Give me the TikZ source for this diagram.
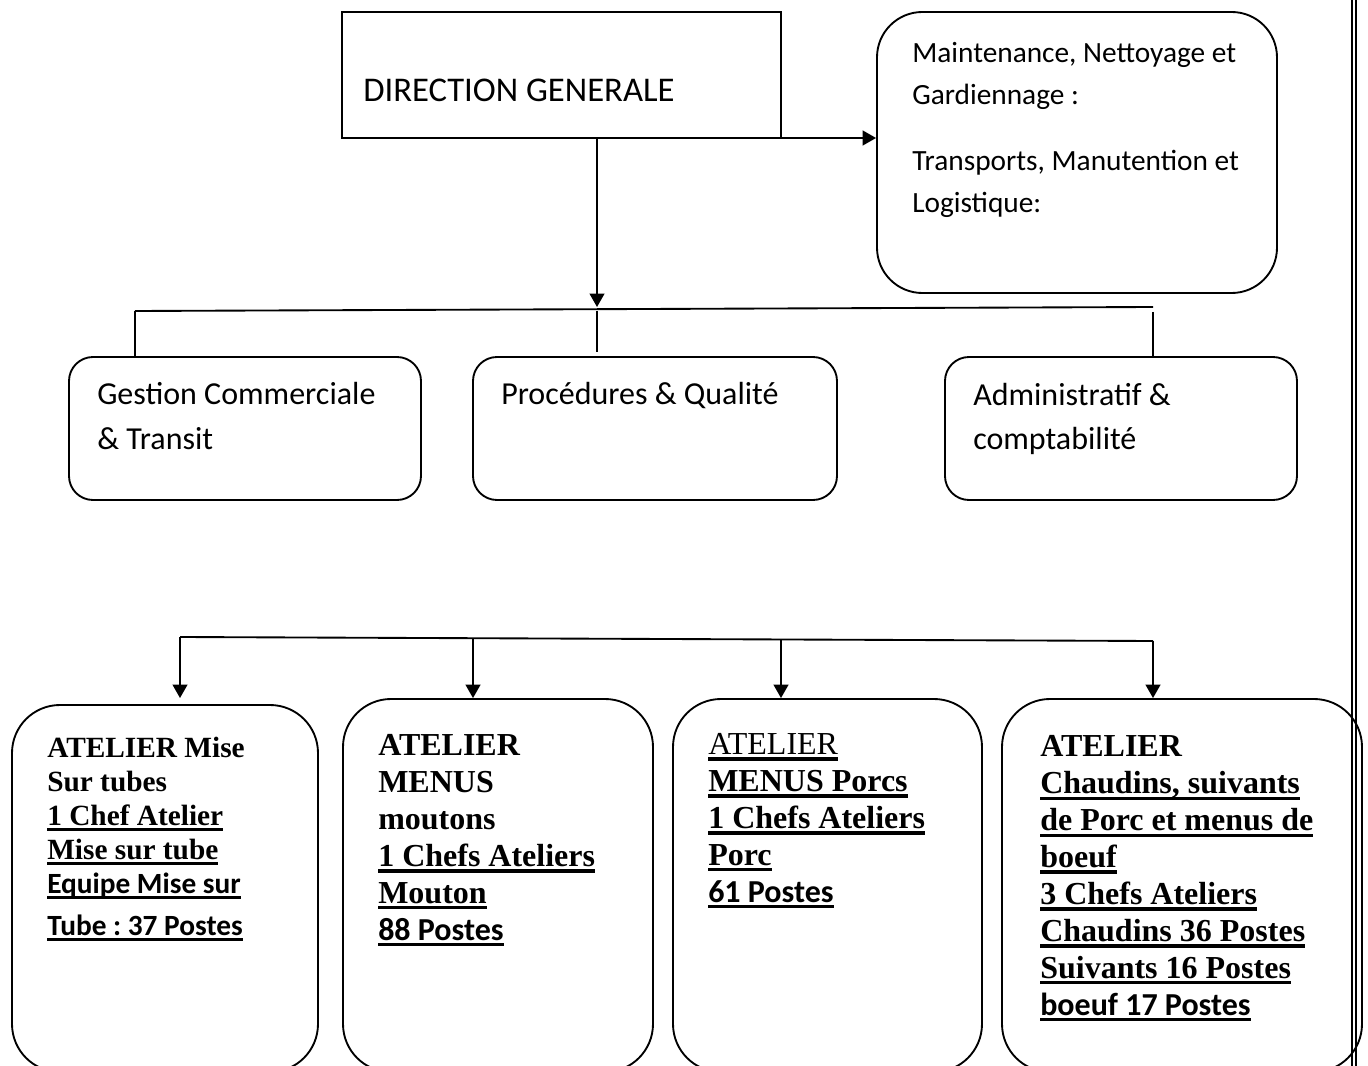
\documentclass[tikz,border=0pt]{standalone}
\usepackage{fontspec}
\setmainfont{Carlito}
\newfontfamily\tnrfont{Liberation Serif}
\newfontfamily\calfont{Carlito}
\usetikzlibrary{arrows.meta,fit,calc}
\newsavebox\ulbox
\newcommand\uln[1]{\sbox\ulbox{#1}\rlap{\rule[-0.2em]{\wd\ulbox}{0.1em}}\usebox\ulbox}
\frenchspacing
\begin{document}
\begin{tikzpicture}[x=0.75pt,y=-0.75pt,
  lw/.style={line width=1.4pt},
  arr/.style={lw,-{Triangle[length=10pt,width=11pt]}},
  sqbox/.style={draw,lw,inner sep=0pt},
  rbox/.style={draw,lw,rounded corners=18pt,inner sep=0pt},
  mbox/.style={draw,lw,rounded corners=34pt,inner sep=0pt},
  bigbox/.style={draw,lw,rounded corners=36pt,inner sep=0pt},
  txt/.style={inner sep=0pt,anchor=base west,align=left},
  calreg/.style={font=\calfont\fontsize{24}{33}\selectfont},
  tb/.style={font=\tnrfont\bfseries\fontsize{24}{27.7}\selectfont},
  tbs/.style={font=\tnrfont\bfseries\fontsize{22}{25.5}\selectfont}]
\useasboundingbox (0,0) rectangle (1368,1066);
\clip (0,0) rectangle (1368,1066);
\fill[white] (0,0) rectangle (1368,1066);

% top
\node[sqbox,fit={(342,12) (781,138)}] (DG) {};
\node[txt,font=\calfont\fontsize{26}{31}\selectfont] (DGt) at (363,102) {DIRECTION GENERALE};
\node[mbox,fit={(877,12) (1277,293)}] (M) {};
\node[txt,font=\calfont\fontsize{22}{31.5}\selectfont] (Mt) at (912,213)
  {Maintenance, Nettoyage et\\ Gardiennage :\\[18pt] Transports, Manutention et\\ Logistique:};

% middle row
\node[rbox,fit={(69,357) (421,500)}] (A) {};
\node[txt,calreg] (At) at (97,449) {Gestion Commerciale\\ \& Transit};
\node[rbox,fit={(473,357) (837,500)}] (B) {};
\node[txt,calreg] (Bt) at (501,405) {Procédures \& Qualité};
\node[rbox,fit={(945,357) (1297,500)}] (C) {};
\node[txt,calreg] (Ct) at (973,450) {Administratif \&\\ comptabilité};

% bottom row
\node[bigbox,fit={(12,705) (318,1072)}] (b1) {};
\node[txt,tbs] (b1t) at (47,935) {ATELIER Mise\\ Sur tubes\\ \uln{1 Chef Atelier}\\ \uln{Mise sur tube}\\
  {\calfont\bfseries\uln{Equipe Mise sur}}\\[6pt] {\calfont\bfseries\uln{Tube : 37 Postes}}};
\node[bigbox,fit={(343,699) (653,1072)}] (b2) {};
\node[txt,tb] (b2t) at (378,940) {ATELIER\\ MENUS\\ moutons\\ \uln{1 Chefs Ateliers}\\ \uln{Mouton}\\
  {\calfont\bfseries\uln{88 Postes}}};
\node[bigbox,fit={(673,699) (982,1072)}] (b3) {};
\node[txt,tb] (b3t) at (708,902) {{\mdseries\uln{ATELIER}}\\ \uln{MENUS Porcs}\\ \uln{1 Chefs Ateliers}\\ \uln{Porc}\\
  {\calfont\bfseries\uln{61 Postes}}};
\node[bigbox,fit={(1002,699) (1362,1072)}] (b4) {};
\node[txt,tb] (b4t) at (1040,1015) {ATELIER\\ \uln{Chaudins, suivants}\\ \uln{de Porc et menus de}\\ \uln{boeuf}\\
  \uln{3 Chefs Ateliers}\\ \uln{Chaudins 36 Postes}\\ \uln{Suivants 16 Postes}\\ {\calfont\bfseries\uln{boeuf 17 Postes}}};

% connectors top
\coordinate (j1) at (597,307);
\draw[arr] (DG.south -| j1) -- (j1);
\coordinate (hs) at (703,138);
\draw[arr] (hs) -- (hs -| M.west);
\coordinate (busL) at (135,311);
\coordinate (busR) at (1153,307);
\draw[lw] (busL) -- (busR);
\draw[lw] (busL) -- (busL |- A.north);
\coordinate (jB) at (597,311);
\coordinate (jBe) at (597,352);
\draw[lw] (jB) -- (jBe);
\coordinate (jC) at (1153,312);
\draw[lw] (jC) -- (jC |- C.north);

% connectors bottom
\coordinate (bL) at (180,637);
\coordinate (bR) at (1153,641);
\draw[lw] (bL) -- (bR);
\coordinate (d1) at (180,698);
\draw[arr] (bL) -- (d1);
\coordinate (s2) at (473,639);
\draw[arr] (s2) -- (s2 |- b2.north);
\coordinate (s3) at (781,640);
\draw[arr] (s3) -- (s3 |- b3.north);
\draw[arr] (bR) -- (bR |- b4.north);

% page border (double line)
\draw[line width=1pt] (1352,0) -- (1352,1066);
\draw[line width=1pt] (1356,0) -- (1356,1066);
\end{tikzpicture}
\end{document}
